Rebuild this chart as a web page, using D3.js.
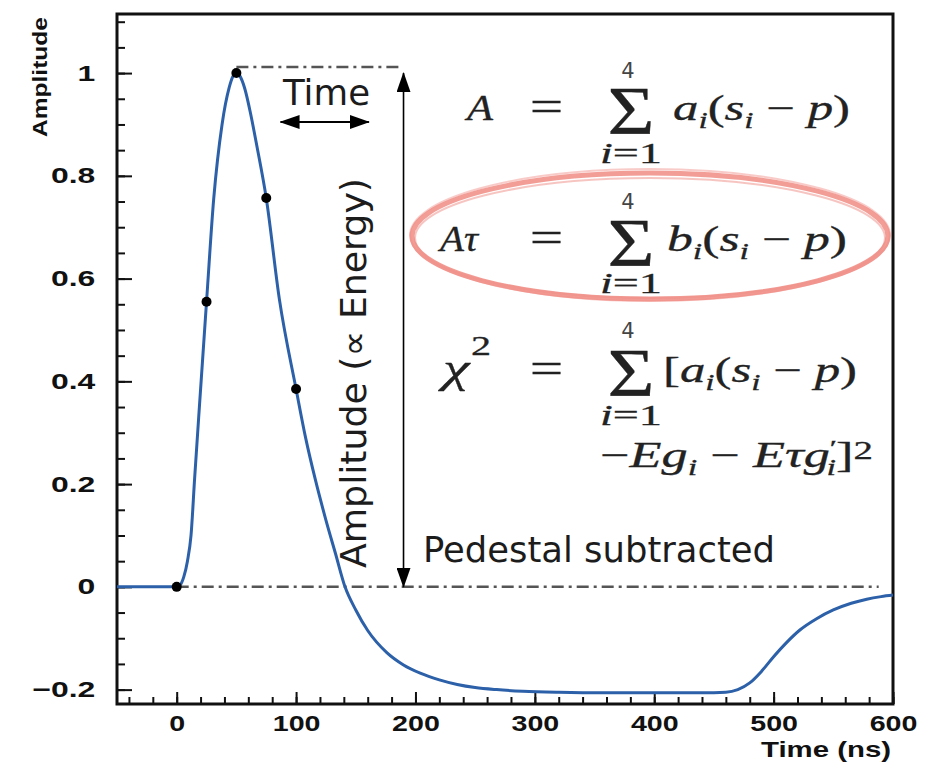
<!DOCTYPE html>
<html>
<head>
<meta charset="utf-8">
<script src="https://cdn.jsdelivr.net/npm/d3@7"></script>
<style>
  body { margin: 0; background: #fff; }
  svg { display: block; }
</style>
</head>
<body>
<svg id="chart" width="946" height="765"></svg>
<script>
// pulse shape (time in ns, amplitude)
const pulseTime = [-50, 0, 3, 6, 9, 12, 15, 19, 25, 31, 38, 44, 47, 50, 53, 57, 62, 67, 75, 86, 100,
  108, 116, 125, 133, 141, 150, 160, 176, 190, 204, 220, 235, 250, 268, 290, 320, 360, 400,
  440, 460, 470, 480, 490, 500, 511, 522, 536, 550, 565, 578, 590, 600];
const pulseAmp = [0, 0, 0.004, 0.02, 0.05, 0.1, 0.21, 0.35, 0.555, 0.755, 0.9, 0.972, 0.993, 1.0, 0.994, 0.97, 0.92, 0.86, 0.757, 0.56, 0.385,
  0.29, 0.21, 0.13, 0.065, 0.0, -0.045, -0.085, -0.128, -0.152, -0.168, -0.181, -0.19, -0.196, -0.2, -0.203, -0.205, -0.206, -0.206,
  -0.206, -0.205, -0.2, -0.187, -0.164, -0.136, -0.108, -0.084, -0.062, -0.045, -0.032, -0.024, -0.019, -0.016];

// the four samples plus the start point
const sampleTime = [0, 25, 50, 75, 100];
const sampleAmp = [0, 0.555, 1.0, 0.757, 0.385];

const xTicks = [0, 100, 200, 300, 400, 500, 600];
const yTicks = [-0.2, 0, 0.2, 0.4, 0.6, 0.8, 1];

const svg = d3.select('#chart');
const plotLeft = 117, plotRight = 893, plotTop = 14, plotBottom = 704;

const x = d3.scaleLinear().domain([-50, 600]).range([plotLeft, plotRight]);
const y = d3.scaleLinear().domain([-0.228, 1.115]).range([plotBottom, plotTop]);

const ink = '#1c1c1c';
const mathInk = '#222';
const blue = '#2c60a8';
const serif = '"Liberation Serif", "DejaVu Serif", serif';
const sans = '"DejaVu Sans", Verdana, sans-serif';
const bold = '"Liberation Sans", Arial, sans-serif';

// arrow heads
const defs = svg.append('defs');
defs.append('marker')
  .attr('id', 'head')
  .attr('viewBox', '0 0 20 14')
  .attr('refX', 19).attr('refY', 7)
  .attr('markerWidth', 20).attr('markerHeight', 14)
  .attr('markerUnits', 'userSpaceOnUse')
  .attr('orient', 'auto-start-reverse')
  .append('path')
  .attr('d', 'M0,0 L20,7 L0,14 Z')
  .attr('fill', '#000');

// minor ticks first, majors over them
const axisStyle = g => {
  g.select('.domain').remove();
  g.selectAll('.tick line').attr('stroke', '#111').attr('stroke-width', 2);
};

svg.append('g')
  .attr('transform', `translate(0,${plotBottom})`)
  .call(d3.axisBottom(x).tickValues(d3.range(-2, 31).map(k => k * 20)).tickSize(-7).tickFormat(''))
  .call(axisStyle);

svg.append('g')
  .attr('transform', `translate(${plotLeft},0)`)
  .call(d3.axisLeft(y).tickValues(d3.range(-4, 23).map(k => k * 0.05)).tickSize(-8).tickFormat(''))
  .call(axisStyle);

const xAxis = svg.append('g')
  .attr('transform', `translate(0,${plotBottom})`)
  .call(d3.axisBottom(x).tickValues(xTicks).tickSize(-12).tickPadding(11))
  .call(axisStyle);

xAxis.selectAll('text')
  .attr('font-family', bold)
  .attr('font-weight', 'bold')
  .attr('font-size', 22)
  .attr('fill', '#111')
  .attr('transform', 'scale(1.3,1)');

const yAxis = svg.append('g')
  .attr('transform', `translate(${plotLeft},0)`)
  .call(d3.axisLeft(y).tickValues(yTicks).tickSize(-15).tickPadding(15).tickFormat(d3.format('')))
  .call(axisStyle);

yAxis.selectAll('text')
  .attr('font-family', bold)
  .attr('font-weight', 'bold')
  .attr('font-size', 22)
  .attr('fill', '#111')
  .attr('transform', 'scale(1.45,1)');

// frame
svg.append('rect')
  .attr('x', plotLeft).attr('y', plotTop)
  .attr('width', plotRight - plotLeft).attr('height', plotBottom - plotTop)
  .attr('fill', 'none').attr('stroke', '#111').attr('stroke-width', 3);

svg.append('text')
  .attr('x', 891).attr('y', 757)
  .attr('text-anchor', 'end')
  .attr('font-family', bold)
  .attr('font-weight', 'bold').attr('font-size', 22)
  .attr('textLength', 130).attr('lengthAdjust', 'spacingAndGlyphs')
  .attr('fill', '#111')
  .text('Time (ns)');

svg.append('text')
  .attr('transform', 'translate(47,77) rotate(-90)')
  .attr('text-anchor', 'middle')
  .attr('font-family', bold)
  .attr('font-weight', 'bold').attr('font-size', 21)
  .attr('textLength', 120).attr('lengthAdjust', 'spacingAndGlyphs')
  .attr('fill', '#111')
  .text('Amplitude');

// dash-dot guides
const dashDot = '12,5,3,5';
svg.append('line')
  .attr('x1', x(0)).attr('x2', x(588))
  .attr('y1', y(0)).attr('y2', y(0))
  .attr('stroke', '#555').attr('stroke-width', 2.5).attr('stroke-dasharray', dashDot);
svg.append('line')
  .attr('x1', x(50)).attr('x2', x(187))
  .attr('y1', y(1.012)).attr('y2', y(1.012))
  .attr('stroke', '#555').attr('stroke-width', 2.5).attr('stroke-dasharray', dashDot);

// pulse
const line = d3.line()
  .x((d, i) => x(pulseTime[i]))
  .y((d, i) => y(pulseAmp[i]))
  .curve(d3.curveMonotoneX);

svg.append('path')
  .datum(pulseAmp)
  .attr('d', line)
  .attr('fill', 'none')
  .attr('stroke', blue)
  .attr('stroke-width', 3);

svg.selectAll('circle.sample')
  .data(sampleTime)
  .join('circle')
  .attr('class', 'sample')
  .attr('cx', d => x(d))
  .attr('cy', (d, i) => y(sampleAmp[i]))
  .attr('r', 5)
  .attr('fill', '#000');

// amplitude arrow
svg.append('line')
  .attr('x1', x(190)).attr('x2', x(190))
  .attr('y1', y(1.0)).attr('y2', y(0))
  .attr('stroke', '#000').attr('stroke-width', 1.6)
  .attr('marker-start', 'url(#head)').attr('marker-end', 'url(#head)');

// time arrow
svg.append('line')
  .attr('x1', x(87)).attr('x2', x(161))
  .attr('y1', 122).attr('y2', 122)
  .attr('stroke', '#000').attr('stroke-width', 2)
  .attr('marker-start', 'url(#head)').attr('marker-end', 'url(#head)');

const label = (tx, ty, w, s, rot) => svg.append('text')
  .attr('transform', `translate(${tx},${ty})` + (rot ? ' rotate(-90)' : ''))
  .attr('text-anchor', rot ? 'middle' : 'start')
  .attr('font-family', sans).attr('font-size', 35)
  .attr('textLength', w).attr('lengthAdjust', 'spacingAndGlyphs')
  .attr('fill', ink)
  .text(s);

label(283, 105, 87, 'Time');
label(423, 562, 352, 'Pedestal subtracted');
label(366, 373, 390, 'Amplitude (\u221D Energy)', true);

// formulas: tokens are [text, italic, shift, size, dx]
function mathText(tx, ty, w, tokens, size) {
  const t = svg.append('text')
    .attr('x', tx).attr('y', ty)
    .attr('font-family', serif).attr('font-size', size)
    .attr('fill', mathInk)
    .attr('stroke', mathInk).attr('stroke-width', 0.3);
  if (w) t.attr('textLength', w).attr('lengthAdjust', 'spacingAndGlyphs');
  let shift = 0;
  tokens.forEach(([s, it, sh = 0, sz = size, dx = 0]) => {
    t.append('tspan')
      .attr('dy', sh - shift)
      .attr('dx', dx)
      .attr('font-style', it ? 'italic' : 'normal')
      .attr('font-size', sz)
      .text(s);
    shift = sh;
  });
  return t;
}

const sub = 8, subSize = 23;

// sum sign with its limits
function sigma(base, top4, under) {
  svg.append('text')
    .attr('x', 628).attr('y', top4)
    .attr('text-anchor', 'middle')
    .attr('font-family', sans).attr('font-size', 21)
    .attr('fill', '#444')
    .text('4');
  svg.append('text')
    .attr('x', 631).attr('y', base)
    .attr('text-anchor', 'middle')
    .attr('font-family', serif).attr('font-size', 68)
    .attr('fill', mathInk)
    .attr('stroke', mathInk).attr('stroke-width', 0.3)
    .attr('textLength', 47).attr('lengthAdjust', 'spacingAndGlyphs')
    .text('\u03A3');
  mathText(600, under, 62, [['i', true], ['=1', false]], 29);
}

function equals(base) {
  svg.append('text')
    .attr('x', 530).attr('y', base)
    .attr('font-family', serif).attr('font-size', 42)
    .attr('textLength', 33).attr('lengthAdjust', 'spacingAndGlyphs')
    .attr('fill', mathInk)
    .attr('stroke', mathInk).attr('stroke-width', 0.5)
    .text('=');
}

// A = sum a_i (s_i - p)
mathText(467, 120, 26, [['A', true]], 35);
equals(120);
sigma(133, 78, 163);
mathText(673, 120, 177, [['a', true], ['i', true, sub, subSize], ['(', false], ['s', true], ['i', true, sub, subSize],
  [' \u2212 ', false], ['p', true], [')', false]], 35);

// A tau = sum b_i (s_i - p)
mathText(440, 251, 38, [['A', true], ['\u03C4', true]], 35);
equals(251);
sigma(265, 209, 293);
mathText(667, 251, 180, [['b', true], ['i', true, sub, subSize], ['(', false], ['s', true], ['i', true, sub, subSize],
  [' \u2212 ', false], ['p', true], [')', false]], 35);

// chi^2 = sum [...]
mathText(443, 382, 48, [['\u03C7', true, 0, 42], ['2', false, -27, 28, 1]], 42);
equals(382);
sigma(395, 338, 425);
mathText(663, 382, 194, [['[', false], ['a', true], ['i', true, sub, subSize], ['(', false], ['s', true], ['i', true, sub, subSize],
  [' \u2212 ', false], ['p', true], [')', false]], 35);
mathText(600, 467, 273, [['\u2212', false], ['E', true], ['g', true], ['i', true, sub, subSize], [' \u2212 ', false],
  ['E', true], ['\u03C4', true], ['g', true], ['\u2032', false, -12, 22], ['i', true, sub, subSize, -7], [']', false],
  ['2', false, -8, 26]], 35);

// hand-drawn ring round the A tau line
const ring = [
  { rx: 238, ry: 63, dy: 0, w: 5, o: 0.85 },
  { rx: 235, ry: 60, dy: 2, w: 2, o: 0.5 },
  { rx: 240, ry: 66, dy: -1, w: 2, o: 0.45 }
];
svg.selectAll('ellipse.ring')
  .data(ring)
  .join('ellipse')
  .attr('class', 'ring')
  .attr('cx', 650).attr('cy', d => 236 + d.dy)
  .attr('rx', d => d.rx).attr('ry', d => d.ry)
  .attr('fill', 'none')
  .attr('stroke', '#f08c84')
  .attr('stroke-width', d => d.w)
  .attr('stroke-opacity', d => d.o);
</script>
</body>
</html>
